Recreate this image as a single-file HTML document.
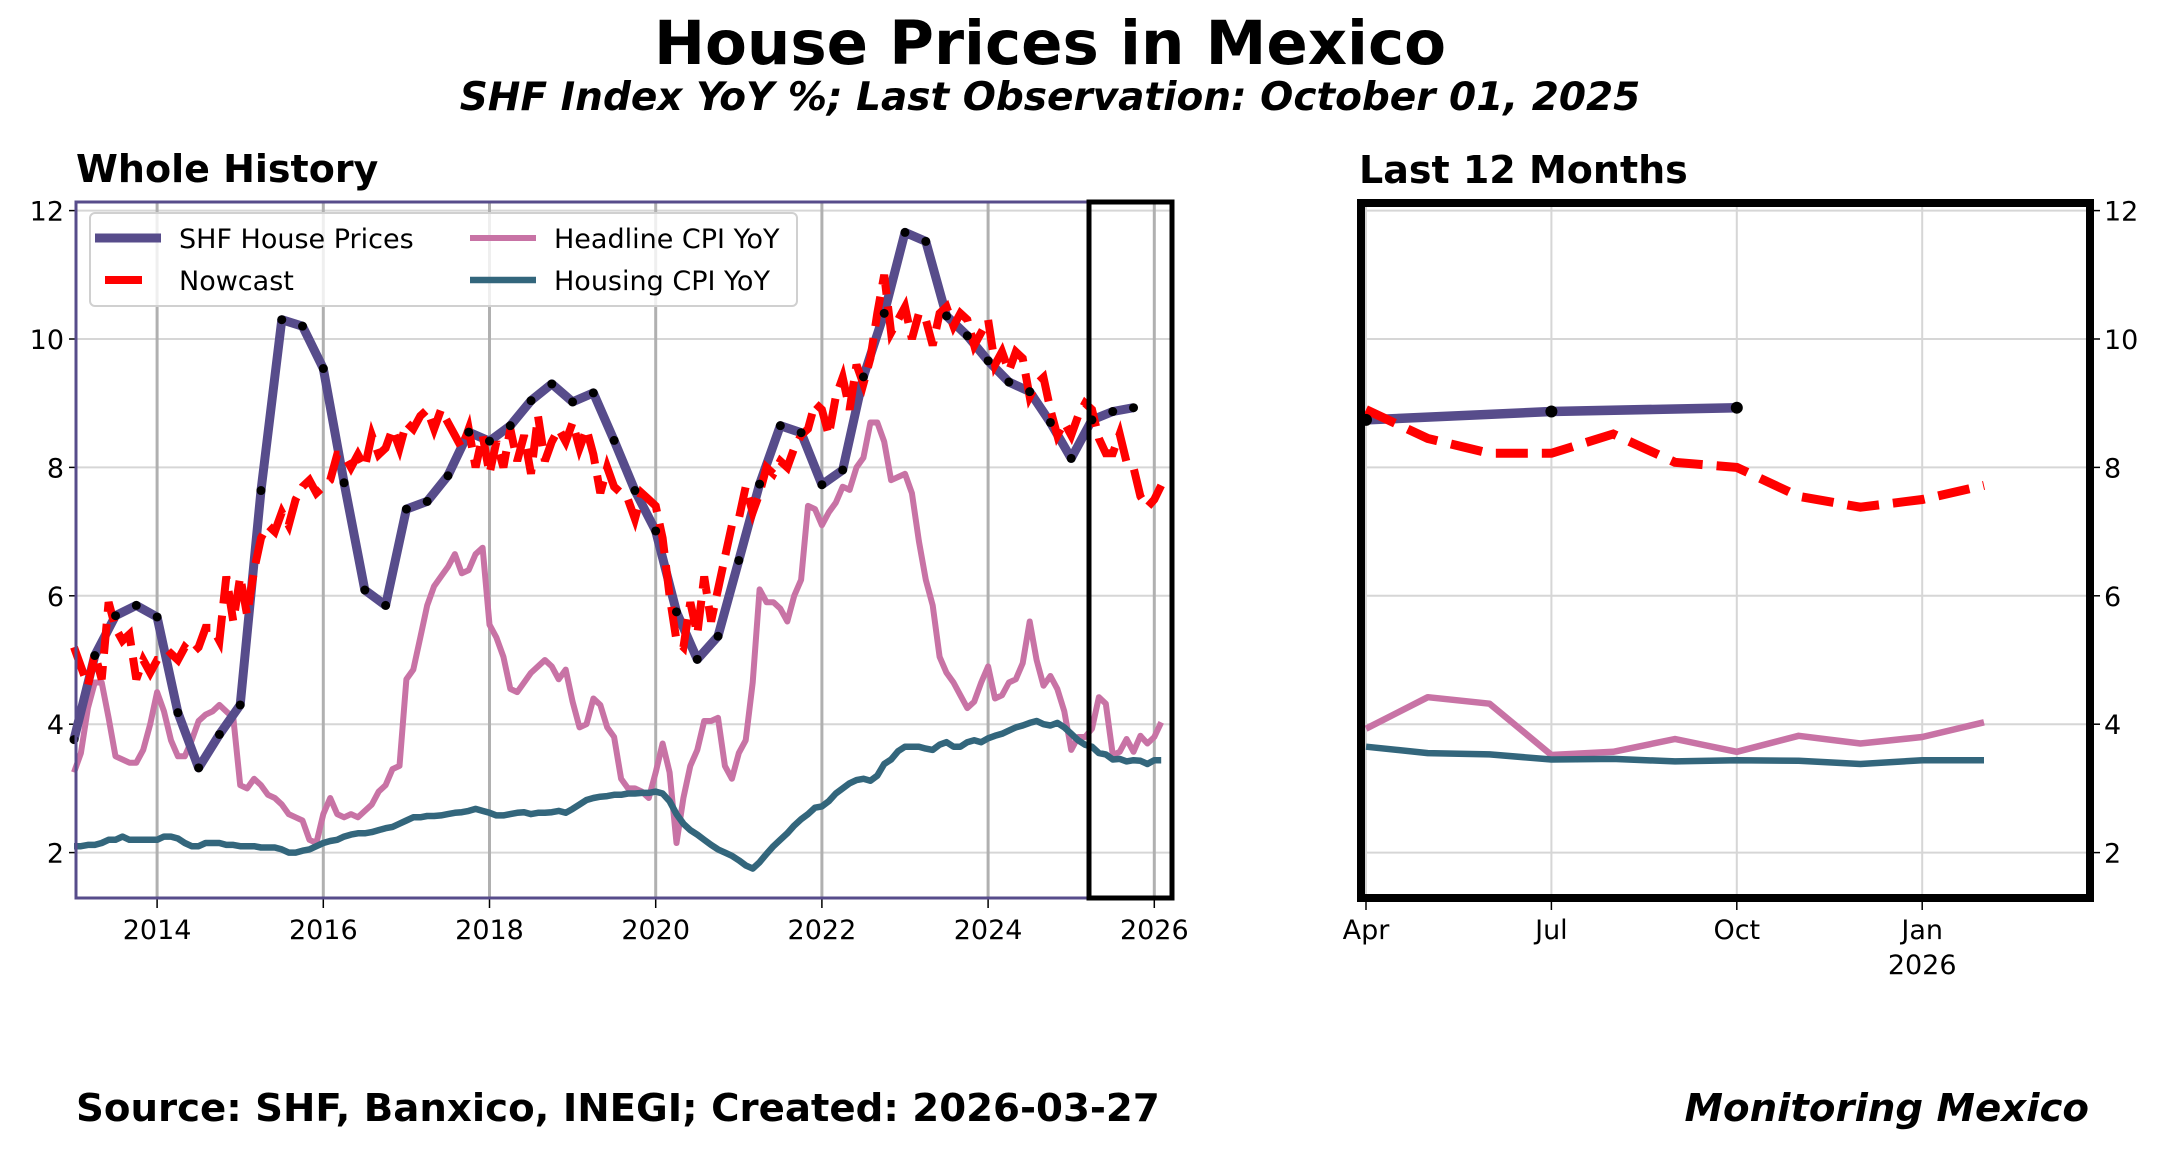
<!DOCTYPE html>
<html><head><meta charset="utf-8">
<style>
html,body{margin:0;padding:0;background:#fff;}
svg{display:block;font-family:"DejaVu Sans","Liberation Sans",sans-serif;}
</style></head>
<body>
<svg id="chart" width="2164" height="1149" viewBox="0 0 2164 1149" xmlns="http://www.w3.org/2000/svg">
<rect width="2164" height="1149" fill="#fff"/>
<text x="1050" y="64" text-anchor="middle" font-size="61" font-weight="bold">House Prices in Mexico</text>
<text x="1050" y="110" text-anchor="middle" font-size="39" font-weight="bold" font-style="italic">SHF Index YoY %; Last Observation: October 01, 2025</text>
<text x="76" y="182" font-size="38" font-weight="bold">Whole History</text>
<text x="1359" y="183" font-size="38" font-weight="bold">Last 12 Months</text>
<text x="76" y="1121" font-size="38.7" font-weight="bold">Source: SHF, Banxico, INEGI; Created: 2026-03-27</text>
<text x="2089" y="1121" text-anchor="end" font-size="38.7" font-weight="bold" font-style="italic">Monitoring Mexico</text>
<g id="left"></g>
<g id="right"></g>
</svg>
<script>
// Monthly series Jan 2013 .. Feb 2026
const nowcast = [
5.2,4.9,4.6,5.1,4.7,5.9,5.5,5.3,5.4,4.7,5.0,4.8,
5.0,5.0,5.1,5.0,5.2,5.1,5.2,5.5,5.5,5.3,6.3,5.6,
6.3,5.7,6.4,6.9,7.1,7.0,7.3,7.1,7.5,7.7,7.8,7.6,
7.7,7.8,8.2,8.2,8.0,8.2,8.0,8.5,8.2,8.3,8.6,8.3,
8.7,8.6,8.8,8.9,8.6,8.9,8.7,8.5,8.3,8.6,8.0,8.5,
7.9,8.4,8.0,8.6,8.1,8.5,7.9,8.8,8.1,8.4,8.6,8.4,
8.7,8.3,8.6,8.2,7.6,8.0,7.7,7.6,7.5,7.2,7.6,7.5,
7.4,6.9,6.0,5.3,5.2,5.9,5.4,6.3,5.6,6.1,6.6,7.1,
7.2,7.7,7.3,7.6,8.0,7.9,8.1,8.0,8.3,8.5,8.6,9.0,
8.9,8.5,9.1,9.4,8.9,9.6,9.3,9.7,10.4,11.0,10.1,10.3,
10.5,10.0,10.4,10.3,9.9,10.4,10.5,10.2,10.4,10.3,9.9,10.1,
10.3,9.6,9.8,9.5,9.8,9.7,9.1,9.3,9.4,8.9,8.5,8.7,
8.5,8.8,9.0,8.9,8.45,8.22,8.22,8.52,8.08,8.0,7.55,7.38,
7.5,7.72];
const headline = [
3.25,3.55,4.25,4.65,4.65,4.1,3.5,3.45,3.4,3.4,3.6,4.0,
4.5,4.2,3.75,3.5,3.5,3.75,4.05,4.15,4.2,4.3,4.2,4.1,
3.05,3.0,3.15,3.05,2.9,2.85,2.75,2.6,2.55,2.5,2.2,2.15,
2.6,2.85,2.6,2.55,2.6,2.55,2.65,2.75,2.95,3.05,3.3,3.35,
4.7,4.85,5.35,5.85,6.15,6.3,6.45,6.65,6.35,6.4,6.65,6.75,
5.55,5.35,5.05,4.55,4.5,4.65,4.8,4.9,5.0,4.9,4.7,4.85,
4.35,3.95,4.0,4.4,4.3,3.95,3.8,3.15,3.0,3.0,2.95,2.85,
3.25,3.7,3.25,2.15,2.85,3.35,3.6,4.05,4.05,4.1,3.35,3.15,
3.55,3.75,4.65,6.1,5.9,5.9,5.8,5.6,6.0,6.25,7.4,7.35,
7.1,7.3,7.45,7.7,7.65,8.0,8.15,8.7,8.7,8.4,7.8,7.85,
7.9,7.6,6.85,6.25,5.85,5.05,4.8,4.65,4.45,4.25,4.35,4.65,
4.9,4.4,4.45,4.65,4.7,4.95,5.6,5.0,4.6,4.75,4.55,4.2,
3.6,3.8,3.8,3.93,4.42,4.32,3.52,3.57,3.77,3.57,3.82,3.7,
3.8,4.03];
const housing = [
2.1,2.1,2.12,2.12,2.15,2.2,2.2,2.25,2.2,2.2,2.2,2.2,
2.2,2.25,2.25,2.22,2.15,2.1,2.1,2.15,2.15,2.15,2.12,2.12,
2.1,2.1,2.1,2.08,2.08,2.08,2.05,2.0,2.0,2.03,2.05,2.1,
2.15,2.18,2.2,2.25,2.28,2.3,2.3,2.32,2.35,2.38,2.4,2.45,
2.5,2.55,2.55,2.57,2.57,2.58,2.6,2.62,2.63,2.65,2.68,2.65,
2.62,2.58,2.58,2.6,2.62,2.63,2.6,2.62,2.62,2.63,2.65,2.62,
2.68,2.75,2.82,2.85,2.87,2.88,2.9,2.9,2.92,2.92,2.93,2.93,
2.95,2.92,2.8,2.6,2.45,2.35,2.28,2.2,2.12,2.05,2.0,1.95,
1.88,1.8,1.75,1.85,1.98,2.1,2.2,2.3,2.42,2.52,2.6,2.7,
2.72,2.8,2.92,3.0,3.08,3.13,3.15,3.12,3.2,3.38,3.45,3.58,
3.65,3.65,3.65,3.62,3.6,3.68,3.72,3.65,3.65,3.72,3.75,3.72,
3.78,3.82,3.85,3.9,3.95,3.98,4.02,4.05,4.0,3.98,4.02,3.95,
3.85,3.75,3.68,3.65,3.55,3.53,3.45,3.46,3.42,3.44,3.43,3.38,
3.44,3.44];
// Quarterly SHF, Q1 2013 .. Q4 2025 (dated at quarter start)
const shf = [
3.76,5.07,5.69,5.85, 5.67,4.18,3.32,3.84, 4.30,7.64,10.30,10.20,
9.54,7.76,6.09,5.85, 7.35,7.47,7.87,8.55, 8.41,8.65,9.04,9.30,
9.02,9.16,8.42,7.64, 7.01,5.75,5.01,5.37, 6.55,7.74,8.65,8.54,
7.73,7.96,9.41,10.40, 11.66,11.52,10.36,10.05, 9.66,9.33,9.18,8.70,
8.14,8.74,8.87,8.93];
const yTicks = [2,4,6,8,10,12];
const leftXTicks = [2014,2016,2018,2020,2022,2024,2026];
const rightXTicks = ["Apr","Jul","Oct","Jan"];
const startYear = 2013;

const NS = "http://www.w3.org/2000/svg";
function mk(parent, tag, attrs){const e=document.createElementNS(NS,tag);for(const k in attrs)e.setAttribute(k,attrs[k]);parent.appendChild(e);return e;}
const C = {shf:"#574c8b", now:"#ff0000", head:"#c873a5", hous:"#33667c"};

// ---------- LEFT PANEL ----------
const L = {x0:76, x1:1172, y0:202, y1:898};
const yL = v => 852.6 - (v-2)*64.2;
const xL = t => 74 + (t-2013)*83.1;
const left = document.getElementById('left');
yTicks.forEach(v=>{
  const g=mk(left,'line',{x1:L.x0,x2:L.x1,y1:yL(v),y2:yL(v),stroke:'#d6d6d6','stroke-width':2});
   
  mk(left,'line',{x1:L.x0-7,x2:L.x0,y1:yL(v),y2:yL(v),stroke:'#000','stroke-width':1.5});
  const t=mk(left,'text',{x:L.x0-12,y:yL(v)+10,'text-anchor':'end','font-size':27});
  t.textContent=v;
   
});
leftXTicks.forEach(yr=>{
  const x=xL(yr);
  const g=mk(left,'line',{x1:x,x2:x,y1:L.y0,y2:L.y1,stroke:'#b0b0b0','stroke-width':3});
   
  mk(left,'line',{x1:x,x2:x,y1:L.y1,y2:L.y1+10,stroke:'#000','stroke-width':1.5});
  const t=mk(left,'text',{x:x,y:939,'text-anchor':'middle','font-size':27});
  t.textContent=yr;
   
});
function path(arr, xf, yf){return arr.map((v,i)=>(i?'L':'M')+xf(i).toFixed(1)+','+yf(v).toFixed(1)).join('');}
const mx = i => xL(startYear + i/12);
const qx = i => xL(startYear + i/4);
let p;
p=mk(left,'path',{d:path(headline,mx,yL),fill:'none',stroke:C.head,'stroke-width':6,'stroke-linejoin':'round'});
 
p=mk(left,'path',{d:path(housing,mx,yL),fill:'none',stroke:C.hous,'stroke-width':6.5,'stroke-linejoin':'round'});
 
p=mk(left,'path',{d:path(shf,qx,yL),fill:'none',stroke:C.shf,'stroke-width':9,'stroke-linejoin':'round'});
 
p=mk(left,'path',{d:path(nowcast,mx,yL),fill:'none',stroke:C.now,'stroke-width':8,'stroke-dasharray':'30 12'});
 
shf.forEach((v,i)=>{
  const c=mk(left,'circle',{cx:qx(i),cy:yL(v),r:4.5,fill:'#000'});
   
});
p=mk(left,'rect',{x:L.x0,y:L.y0,width:L.x1-L.x0,height:L.y1-L.y0,fill:'none',stroke:C.shf,'stroke-width':3});
 
p=mk(left,'rect',{x:1089,y:L.y0,width:L.x1-1089,height:L.y1-L.y0,fill:'none',stroke:'#000','stroke-width':5});
 
// legend
const lg=mk(left,'g',{});
 
mk(lg,'rect',{x:90,y:213,width:707,height:93,rx:5,fill:'#fff','fill-opacity':0.8,stroke:'#d0d0d0','stroke-width':2});
const entries=[
 {n:'SHF House Prices',c:C.shf,x:95,y:238,w:9,dash:null,name:'legend-entry-shf'},
 {n:'Nowcast',c:C.now,x:95,y:280,w:8,dash:'26 11',name:'legend-entry-nowcast'},
 {n:'Headline CPI YoY',c:C.head,x:470,y:238,w:6,dash:null,name:'legend-entry-headline'},
 {n:'Housing CPI YoY',c:C.hous,x:470,y:280,w:6.5,dash:null,name:'legend-entry-housing'}];
entries.forEach(e=>{
  const g=mk(lg,'g',{});
   
  mk(g,'line',{x1:e.x+(e.dash?10:0),x2:e.x+(e.dash?47:66),y1:e.y,y2:e.y,stroke:e.c,'stroke-width':e.w});
  const t=mk(g,'text',{x:e.x+84,y:e.y+10,'font-size':27});
  t.textContent=e.n;
});

// ---------- RIGHT PANEL ----------
const R = {x0:1361, x1:2090, y0:203, y1:898};
const yR = v => 852.6 - (v-2)*64.2;
const xR = m => 1366 + m*61.8;   // months since Apr 2025
const right=document.getElementById('right');
const off = 147; // index of Apr 2025
yTicks.forEach(v=>{
  const g=mk(right,'line',{x1:R.x0,x2:R.x1,y1:yR(v),y2:yR(v),stroke:'#d6d6d6','stroke-width':2});
   
  mk(right,'line',{x1:R.x1,x2:R.x1+10,y1:yR(v),y2:yR(v),stroke:'#000','stroke-width':1.5});
  const t=mk(right,'text',{x:R.x1+14,y:yR(v)+10,'font-size':27});
  t.textContent=v;
   
});
rightXTicks.forEach((lab,k)=>{
  const x=xR(k*3);
  const g=mk(right,'line',{x1:x,x2:x,y1:R.y0,y2:R.y1,stroke:'#d6d6d6','stroke-width':2});
   
  mk(right,'line',{x1:x,x2:x,y1:R.y1,y2:R.y1+12,stroke:'#000','stroke-width':1.5});
  const t=mk(right,'text',{x:x,y:939,'text-anchor':'middle','font-size':27});
  t.textContent=lab;
   
});
const t26=mk(right,'text',{x:xR(9),y:974,'text-anchor':'middle','font-size':27});
t26.textContent='2026';
 
const rNow=nowcast.slice(off), rHead=headline.slice(off), rHous=housing.slice(off);
const rShf=shf.slice(49);
const rx = i => xR(i), rqx = i => xR(i*3);
p=mk(right,'path',{d:path(rHead,rx,yR),fill:'none',stroke:C.head,'stroke-width':6.5,'stroke-linejoin':'round'});
 
p=mk(right,'path',{d:path(rHous,rx,yR),fill:'none',stroke:C.hous,'stroke-width':6.5,'stroke-linejoin':'round'});
 
p=mk(right,'path',{d:path(rShf,rqx,yR),fill:'none',stroke:C.shf,'stroke-width':9.5});
 
p=mk(right,'path',{d:path(rNow,rx,yR),fill:'none',stroke:C.now,'stroke-width':9,'stroke-dasharray':'32 14'});
 
rShf.forEach((v,i)=>{
  const c=mk(right,'circle',{cx:rqx(i),cy:yR(v),r:6,fill:'#000'});
   
});
p=mk(right,'rect',{x:R.x0,y:R.y0,width:R.x1-R.x0,height:R.y1-R.y0,fill:'none',stroke:'#000','stroke-width':8});
 
</script>
</body></html>
